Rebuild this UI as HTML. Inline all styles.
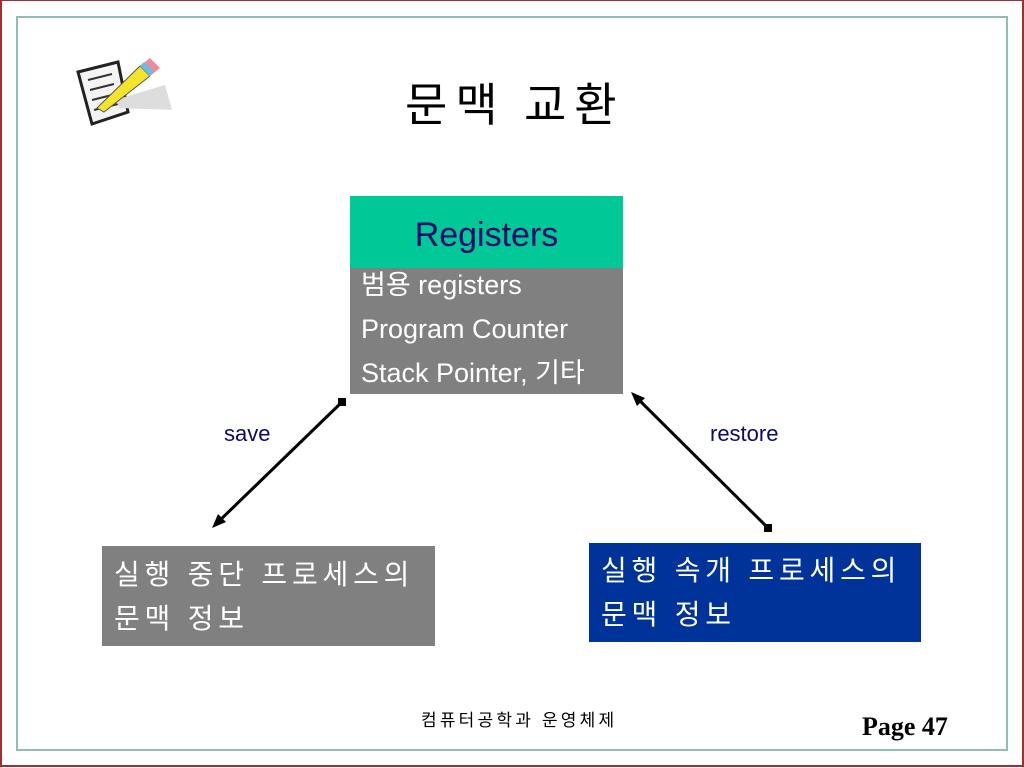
<!DOCTYPE html>
<html><head><meta charset="utf-8"><style>
body{margin:0;width:1024px;height:768px;position:relative;background:#fff;overflow:hidden;font-family:"Liberation Sans","Noto Sans CJK KR",sans-serif}
.a{position:absolute;white-space:nowrap}
</style></head><body>
<div class="a" style="left:0;top:0;width:1020px;height:764px;border:2px solid #a0302f;border-top-width:1px"></div>
<div class="a" style="left:16px;top:16px;width:988px;height:731px;border:2px solid #8fbfae"></div>
<svg class="a" style="left:0;top:0" width="1024" height="768">
<polygon points="78,72 118,62 128,112 92,124" fill="#f4f4f4" stroke="#222" stroke-width="3"/>
<line x1="88" y1="80" x2="112" y2="74" stroke="#333" stroke-width="2"/>
<line x1="90" y1="90" x2="114" y2="84" stroke="#333" stroke-width="2"/>
<line x1="92" y1="100" x2="116" y2="94" stroke="#333" stroke-width="2"/>
<line x1="94" y1="110" x2="118" y2="104" stroke="#333" stroke-width="2"/>
<polygon points="115,100 165,85 172,110 120,108" fill="#ddd"/>
<polygon points="97,108 140,66 150,76 104,112" fill="#f5e52a" stroke="#555" stroke-width="1"/>
<polygon points="140,66 150,58 160,68 150,76" fill="#f08aa0"/>
<polygon points="140,66 144,62 154,72 150,76" fill="#5fc0e8"/>
<line x1="342" y1="402" x2="215" y2="525" stroke="#000" stroke-width="3"/>
<rect x="338" y="398" width="8" height="8" fill="#000"/>
<polygon points="212,528 218,514 226,522" fill="#000"/>
<line x1="634" y1="395" x2="767" y2="527" stroke="#000" stroke-width="3"/>
<polygon points="631,392 645,398 637,406" fill="#000"/>
<rect x="764" y="524" width="8" height="8" fill="#000"/>
</svg>
<div class="a" style="left:405px;top:72px;font-size:46px;color:#000;font-family:'Noto Sans CJK KR',sans-serif;line-height:60px;letter-spacing:8px">문맥 교환</div>
<div class="a" style="left:350px;top:196px;width:273px;height:72px;background:#00c896"></div>
<div class="a" style="left:350px;top:216px;width:273px;text-align:center;font-size:34px;color:#0a0a6e">Registers</div>
<div class="a" style="left:350px;top:268px;width:273px;height:126px;background:#808080"></div>
<div class="a" style="left:361px;top:263px;font-size:27px;color:#fff;line-height:44px">범용 registers<br>Program Counter<br>Stack Pointer, 기타</div>
<div class="a" style="left:224px;top:421px;font-size:22px;color:#0a0a6e">save</div>
<div class="a" style="left:710px;top:421px;font-size:22px;color:#0a0a6e">restore</div>
<div class="a" style="left:102px;top:546px;width:333px;height:100px;background:#808080"></div>
<div class="a" style="left:114px;top:553px;font-size:28px;color:#fff;line-height:44px;letter-spacing:4.8px">실행 중단 프로세스의<br>문맥 정보</div>
<div class="a" style="left:589px;top:543px;width:332px;height:99px;background:#003399"></div>
<div class="a" style="left:601px;top:549px;font-size:28px;color:#fff;line-height:44px;letter-spacing:4.8px">실행 속개 프로세스의<br>문맥 정보</div>
<div class="a" style="left:421px;top:706px;font-size:17px;color:#000;letter-spacing:3.2px">컴퓨터공학과 운영체제</div>
<div class="a" style="left:862px;top:712px;font-size:26px;font-weight:bold;font-family:'Liberation Serif',serif">Page 47</div>
</body></html>
